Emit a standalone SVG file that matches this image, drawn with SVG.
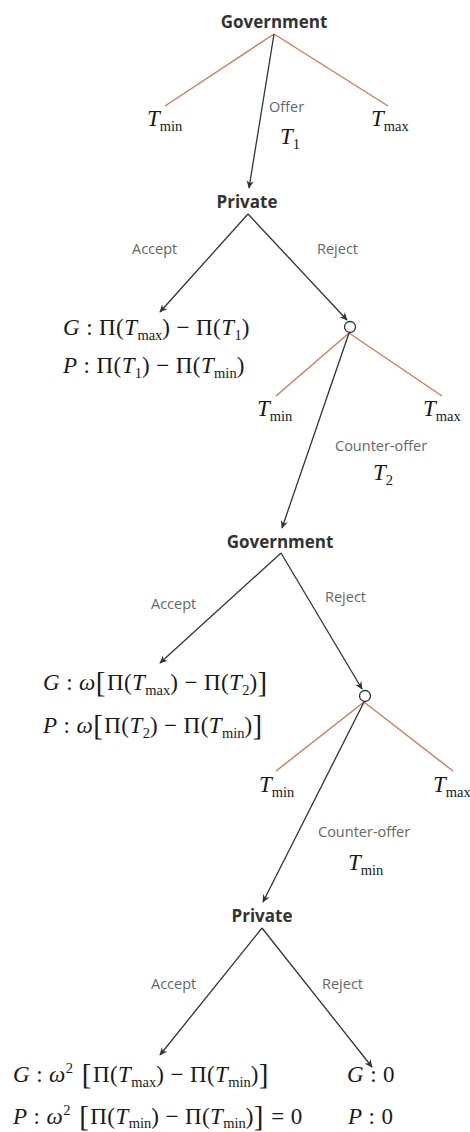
<svg xmlns="http://www.w3.org/2000/svg" width="470" height="1132" viewBox="0 0 470 1132">
<style>
.node{font-family:"Open Sans","DejaVu Sans",sans-serif;font-weight:bold;font-size:17px;fill:#333;text-anchor:middle}
.lbl{font-family:"Open Sans","DejaVu Sans",sans-serif;font-size:14.5px;fill:#666}
.m{font-family:"Liberation Serif","Times New Roman",serif;font-size:23px;fill:#1a1a1a}
.pay{letter-spacing:0.4px}
.i{font-style:italic}
.sub{font-size:14.5px;letter-spacing:0}
.br{font-size:29px;letter-spacing:1.5px}
.red{stroke:#d27a60;stroke-width:1.4;fill:none}
.arr{stroke:#333;stroke-width:1.3;fill:none;marker-end:url(#ah)}
.dot{fill:#fff;stroke:#333;stroke-width:1.3}
</style>
<defs>
<marker id="ah" viewBox="0 0 10 10" refX="9" refY="5" markerWidth="8" markerHeight="8" orient="auto" markerUnits="userSpaceOnUse">
<path d="M0,0.5 L10,5 L0,9.5 L3,5 z" fill="#333"/>
</marker>
</defs>
<g id="connectors">
<line class="red" x1="274" y1="34" x2="165" y2="106"/>
<line class="red" x1="274" y1="34" x2="388" y2="106"/>
<line class="arr" x1="274" y1="34" x2="249" y2="188"/>
<line class="arr" x1="248" y1="214" x2="160" y2="312"/>
<line class="arr" x1="248" y1="214" x2="347" y2="320"/>
<line class="red" x1="349" y1="333" x2="276" y2="396"/>
<line class="red" x1="349" y1="333" x2="442" y2="396"/>
<line class="arr" x1="349" y1="333" x2="282" y2="528"/>
<line class="arr" x1="281" y1="553" x2="160" y2="663"/>
<line class="arr" x1="281" y1="553" x2="362" y2="689"/>
<line class="red" x1="364" y1="702" x2="276" y2="771"/>
<line class="red" x1="364" y1="702" x2="453" y2="771"/>
<line class="arr" x1="364" y1="702" x2="263" y2="902"/>
<line class="arr" x1="262" y1="928" x2="160" y2="1055"/>
<line class="arr" x1="262" y1="928" x2="372" y2="1067"/>
</g>
<g id="gov1"><text class="node" x="274" y="28">Government</text></g>
<g id="offer1">
<text class="lbl" x="269" y="112">Offer</text>
<text class="m" x="280" y="144"><tspan class="i">T</tspan><tspan class="sub" dy="5">1</tspan></text>
<text class="m" x="147" y="126"><tspan class="i">T</tspan><tspan class="sub" dy="5">min</tspan></text>
<text class="m" x="371" y="126"><tspan class="i">T</tspan><tspan class="sub" dy="5">max</tspan></text>
</g>
<g id="priv1"><text class="node" x="247" y="208">Private</text></g>
<g id="labels1">
<text class="lbl" x="132" y="254">Accept</text>
<text class="lbl" x="317" y="254">Reject</text>
</g>
<g id="payoff1">
<text class="m pay" x="63" y="335"><tspan class="i">G</tspan> : Π(<tspan class="i">T</tspan><tspan class="sub" dy="5">max</tspan><tspan dy="-5">) − Π(</tspan><tspan class="i">T</tspan><tspan class="sub" dy="5">1</tspan><tspan dy="-5">)</tspan></text>
<text class="m pay" x="63" y="373"><tspan class="i">P</tspan> : Π(<tspan class="i">T</tspan><tspan class="sub" dy="5">1</tspan><tspan dy="-5">) − Π(</tspan><tspan class="i">T</tspan><tspan class="sub" dy="5">min</tspan><tspan dy="-5">)</tspan></text>
</g>
<g id="chance1">
<circle class="dot" cx="350" cy="327" r="5.5"/>
<text class="m" x="257" y="416"><tspan class="i">T</tspan><tspan class="sub" dy="5">min</tspan></text>
<text class="m" x="423" y="416"><tspan class="i">T</tspan><tspan class="sub" dy="5">max</tspan></text>
<text class="lbl" x="335" y="451">Counter-offer</text>
<text class="m" x="373" y="480"><tspan class="i">T</tspan><tspan class="sub" dy="5">2</tspan></text>
</g>
<g id="gov2"><text class="node" x="280" y="548">Government</text></g>
<g id="labels2">
<text class="lbl" x="151" y="609">Accept</text>
<text class="lbl" x="325" y="602">Reject</text>
</g>
<g id="payoff2">
<text class="m pay" x="43" y="690"><tspan class="i">G</tspan> : <tspan class="i">ω</tspan><tspan class="br" dy="2">[</tspan><tspan dy="-2">Π(</tspan><tspan class="i">T</tspan><tspan class="sub" dy="5">max</tspan><tspan dy="-5">) − Π(</tspan><tspan class="i">T</tspan><tspan class="sub" dy="5">2</tspan><tspan dy="-5">)</tspan><tspan class="br" dy="2">]</tspan></text>
<text class="m pay" x="43" y="733"><tspan class="i">P</tspan> : <tspan class="i">ω</tspan><tspan class="br" dy="2">[</tspan><tspan dy="-2">Π(</tspan><tspan class="i">T</tspan><tspan class="sub" dy="5">2</tspan><tspan dy="-5">) − Π(</tspan><tspan class="i">T</tspan><tspan class="sub" dy="5">min</tspan><tspan dy="-5">)</tspan><tspan class="br" dy="2">]</tspan></text>
</g>
<g id="chance2">
<circle class="dot" cx="365" cy="696" r="5.5"/>
<text class="m" x="259" y="792"><tspan class="i">T</tspan><tspan class="sub" dy="5">min</tspan></text>
<text class="m" x="433" y="792"><tspan class="i">T</tspan><tspan class="sub" dy="5">max</tspan></text>
<text class="lbl" x="318" y="837">Counter-offer</text>
<text class="m" x="348" y="870"><tspan class="i">T</tspan><tspan class="sub" dy="5">min</tspan></text>
</g>
<g id="priv2"><text class="node" x="262" y="922">Private</text></g>
<g id="labels3">
<text class="lbl" x="151" y="989">Accept</text>
<text class="lbl" x="322" y="989">Reject</text>
</g>
<g id="payoff3">
<text class="m pay" x="13" y="1082"><tspan class="i">G</tspan> : <tspan class="i">ω</tspan><tspan class="sub" dy="-9">2</tspan><tspan class="br" dy="11"> [</tspan><tspan dy="-2">Π(</tspan><tspan class="i">T</tspan><tspan class="sub" dy="5">max</tspan><tspan dy="-5">) − Π(</tspan><tspan class="i">T</tspan><tspan class="sub" dy="5">min</tspan><tspan dy="-5">)</tspan><tspan class="br" dy="2">]</tspan></text>
<text class="m pay" x="13" y="1124"><tspan class="i">P</tspan> : <tspan class="i">ω</tspan><tspan class="sub" dy="-9">2</tspan><tspan class="br" dy="11"> [</tspan><tspan dy="-2">Π(</tspan><tspan class="i">T</tspan><tspan class="sub" dy="4">min</tspan><tspan dy="-4">) − Π(</tspan><tspan class="i">T</tspan><tspan class="sub" dy="4">min</tspan><tspan dy="-4">)</tspan><tspan class="br" dy="2">]</tspan><tspan dy="-2"> = 0</tspan></text>
</g>
<g id="reject-end">
<text class="m pay" x="347" y="1082"><tspan class="i">G</tspan> : 0</text>
<text class="m pay" x="348" y="1124"><tspan class="i">P</tspan> : 0</text>
</g>
</svg>
